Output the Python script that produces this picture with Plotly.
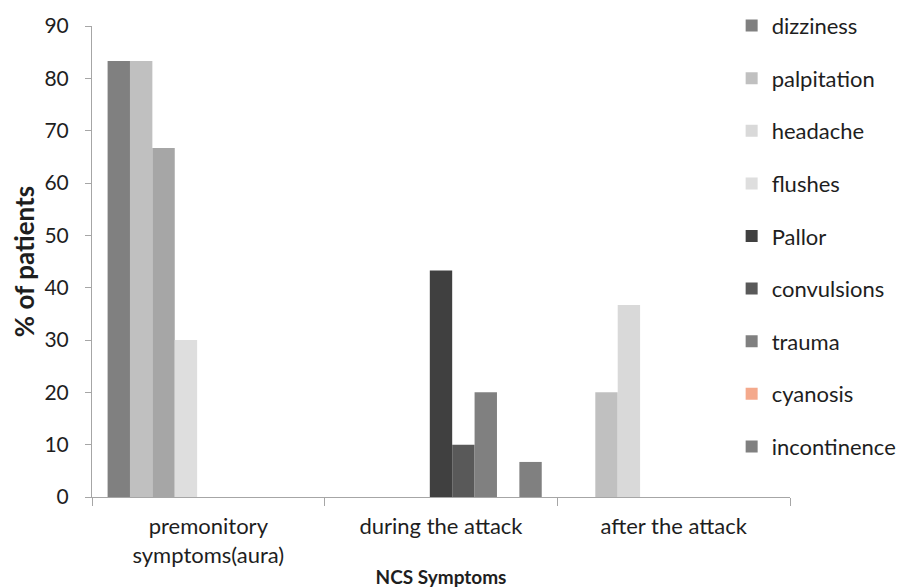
import plotly.graph_objects as go

categories = ["premonitory<br>symptoms(aura)", "during the attack", "after the attack"]

series_names = ["dizziness", "palpitation", "headache", "flushes", "Pallor",
                "convulsions", "trauma", "cyanosis", "incontinence"]

dizziness = [83.3, 0, 0]
palpitation = [83.3, 0, 20.0]
headache = [66.7, 0, 36.7]
flushes = [30.0, 0, 0]
pallor = [0, 43.3, 0]
convulsions = [0, 10.0, 0]
trauma = [0, 20.0, 0]
cyanosis = [0, 0, 0]
incontinence = [0, 6.7, 0]

values = [dizziness, palpitation, headache, flushes, pallor,
          convulsions, trauma, cyanosis, incontinence]

colors = ["#808080", "#c0c0c0", "#d9d9d9", "#dedede", "#404040",
          "#595959", "#808080", "#f4a98c", "#808080"]

# headache bar in the first group is drawn a darker grey
headache_point_colors = ["#a6a6a6", "#d9d9d9", "#d9d9d9"]

FONT = "Lato, 'Open Sans', sans-serif"
TXT = "#1e1e1e"

fig = go.Figure()
for i, (name, vals, col) in enumerate(zip(series_names, values, colors)):
    if name == "headache":
        # list points in reverse so the legend swatch takes the light grey
        x = categories[::-1]
        y = vals[::-1]
        c = headache_point_colors[::-1]
    else:
        x, y, c = categories, vals, col
    fig.add_trace(go.Bar(
        name=name, x=x, y=y,
        marker=dict(color=c, line=dict(width=0)),
        legendgroup=f"g{i}",
    ))

fig.update_layout(
    width=897, height=588,
    margin=dict(l=92, r=107, t=26, b=91, autoexpand=False),
    paper_bgcolor="white", plot_bgcolor="white",
    barmode="group", bargap=0.134, bargroupgap=0,
    font=dict(family=FONT, color=TXT, size=21),
    showlegend=True,
    legend=dict(
        x=0.9164, y=1.045, xanchor="left", yanchor="top",
        font=dict(size=22, family=FONT, color=TXT),
        tracegroupgap=21, traceorder="grouped",
        itemwidth=30, bgcolor="rgba(0,0,0,0)",
        maxheight=600,
    ),
    xaxis=dict(
        type="category", categoryorder="array", categoryarray=categories,
        showline=True, linecolor="#a6a6a6", linewidth=1,
        ticks="outside", tickson="boundaries", ticklen=8, tickcolor="#a6a6a6",
        tickfont=dict(size=22, family=FONT, color=TXT),
        ticklabelstandoff=10,
        showgrid=False,
        title=dict(text="<b>NCS Symptoms</b>", font=dict(size=19, family=FONT, color=TXT),
                   standoff=3),
    ),
    yaxis=dict(
        range=[0, 90], dtick=10, tick0=0,
        showline=True, linecolor="#a6a6a6", linewidth=1,
        ticks="outside", ticklen=6, tickcolor="#a6a6a6",
        tickfont=dict(size=21, family=FONT, color=TXT),
        ticklabelstandoff=12,
        showgrid=False, zeroline=False,
        title=dict(text="<b>% of patients</b>", font=dict(size=26, family=FONT, color=TXT),
                   standoff=2),
    ),
)

fig.write_html("out.html")
